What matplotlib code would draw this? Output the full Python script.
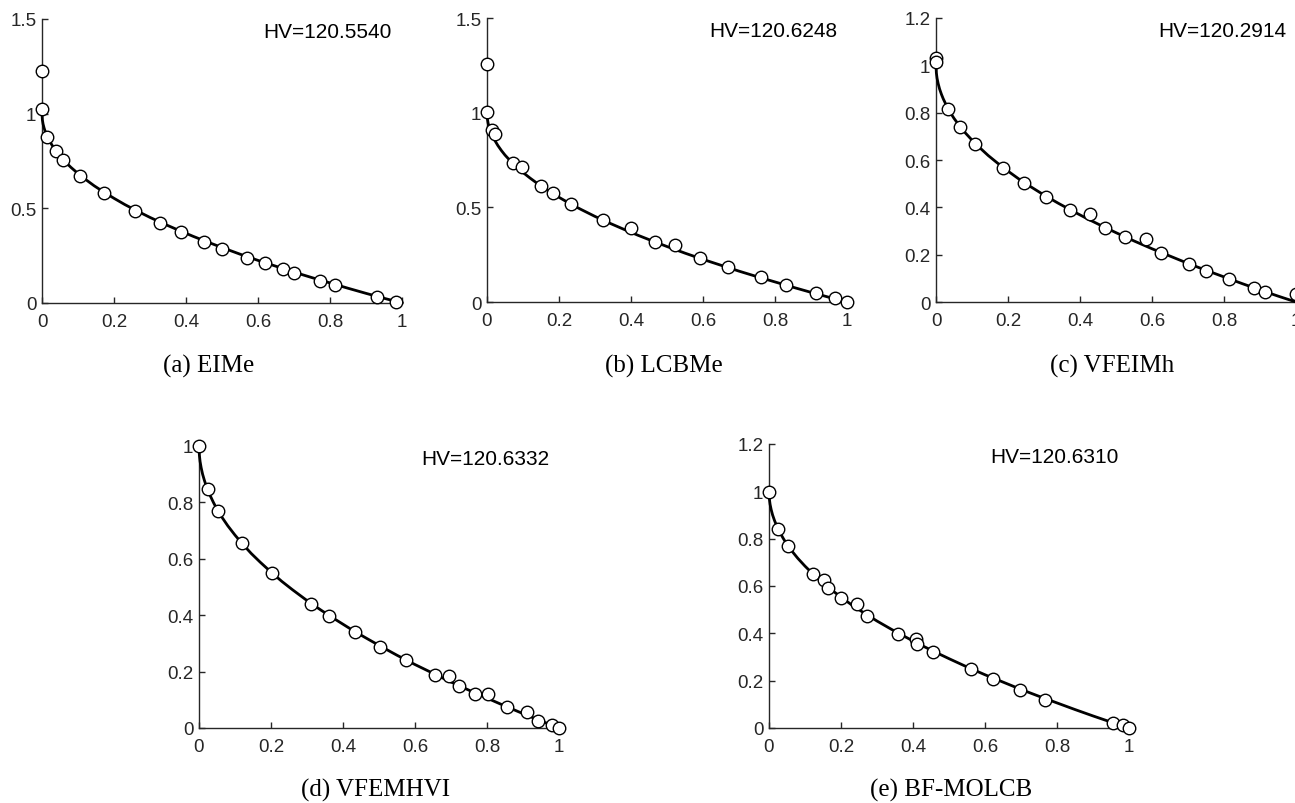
import matplotlib
matplotlib.use("Agg")
import matplotlib.pyplot as plt
from matplotlib.ticker import FuncFormatter, MultipleLocator

# ---------------- data ----------------
# reference Pareto front
pf_f1 = [0, 0.001, 0.003, 0.006, 0.01, 0.015, 0.02, 0.03, 0.04, 0.05, 0.065, 0.08,
         0.1, 0.12, 0.145, 0.17, 0.2, 0.23, 0.26, 0.3, 0.34, 0.38, 0.42, 0.46, 0.5,
         0.55, 0.6, 0.65, 0.7, 0.75, 0.8, 0.85, 0.9, 0.95, 1.0]
pf_f2 = [1.0, 0.968, 0.945, 0.923, 0.9, 0.878, 0.859, 0.827, 0.8, 0.776, 0.745, 0.717,
         0.684, 0.654, 0.619, 0.588, 0.553, 0.520, 0.490, 0.452, 0.417, 0.384, 0.352,
         0.322, 0.293, 0.258, 0.225, 0.194, 0.163, 0.134, 0.106, 0.078, 0.051, 0.025, 0.0]

captions = ["(a) EIMe", "(b) LCBMe", "(c) VFEIMh", "(d) VFEMHVI", "(e) BF-MOLCB"]
hv_values = ["120.5540", "120.6248", "120.2914", "120.6332", "120.6310"]

eime_f1 = [0, 0, 0.014, 0.038, 0.057, 0.106, 0.171, 0.259, 0.327, 0.385, 0.451, 0.501,
           0.569, 0.619, 0.669, 0.699, 0.772, 0.815, 0.931, 0.983]
eime_f2 = [1.227, 1.025, 0.879, 0.803, 0.754, 0.669, 0.581, 0.486, 0.423, 0.375, 0.324,
           0.287, 0.239, 0.210, 0.178, 0.158, 0.118, 0.093, 0.033, 0.004]

lcbme_f1 = [0, 0, 0.013, 0.023, 0.073, 0.097, 0.151, 0.182, 0.234, 0.321, 0.400, 0.466,
            0.523, 0.591, 0.669, 0.761, 0.831, 0.914, 0.967, 1.0]
lcbme_f2 = [1.256, 1.006, 0.909, 0.888, 0.732, 0.712, 0.612, 0.575, 0.517, 0.433, 0.390,
            0.318, 0.301, 0.234, 0.186, 0.130, 0.091, 0.047, 0.021, 0.0]

vfeimh_f1 = [0, 0, 0.033, 0.066, 0.108, 0.187, 0.244, 0.306, 0.372, 0.429, 0.469, 0.524,
             0.584, 0.624, 0.703, 0.750, 0.815, 0.882, 0.915, 1.0]
vfeimh_f2 = [1.031, 1.014, 0.816, 0.741, 0.669, 0.566, 0.503, 0.445, 0.388, 0.373, 0.313,
             0.275, 0.268, 0.209, 0.160, 0.131, 0.096, 0.061, 0.042, 0.032]

vfemhvi_f1 = [0, 0.025, 0.053, 0.119, 0.203, 0.311, 0.362, 0.432, 0.503, 0.575, 0.656,
              0.694, 0.721, 0.768, 0.802, 0.855, 0.911, 0.941, 0.980, 0.999]
vfemhvi_f2 = [1.0, 0.846, 0.770, 0.657, 0.550, 0.440, 0.396, 0.342, 0.288, 0.240, 0.188,
              0.186, 0.149, 0.122, 0.122, 0.076, 0.058, 0.026, 0.011, 0.0]

bfmolcb_f1 = [0, 0.025, 0.053, 0.121, 0.154, 0.165, 0.201, 0.244, 0.272, 0.359, 0.407,
              0.410, 0.456, 0.562, 0.621, 0.697, 0.768, 0.956, 0.983, 1.0]
bfmolcb_f2 = [0.997, 0.840, 0.767, 0.649, 0.625, 0.591, 0.549, 0.525, 0.475, 0.398, 0.374,
              0.355, 0.323, 0.248, 0.209, 0.162, 0.120, 0.021, 0.014, 0.0]

series_f1 = [eime_f1, lcbme_f1, vfeimh_f1, vfemhvi_f1, bfmolcb_f1]
series_f2 = [eime_f2, lcbme_f2, vfeimh_f2, vfemhvi_f2, bfmolcb_f2]

y_max = [1.5, 1.5, 1.2, 1.0, 1.2]
y_step = [0.5, 0.5, 0.2, 0.2, 0.2]

# ---------------- layout (pixels) ----------------
W, H = 1295, 804
# left, right, top, bottom in pixels
boxes = [(42, 402, 20, 304), (487, 847, 19, 303), (936, 1296, 19, 303),
         (199, 559, 447, 729), (769, 1129, 445, 729)]
cap_pos = [(209, 373), (664, 373), (1112, 373), (376, 797), (951, 797)]

fig = plt.figure(figsize=(W / 100, H / 100), dpi=100)
fig.patch.set_facecolor("white")

axis_col = "#262626"
fmt = FuncFormatter(lambda v, p: "%g" % round(v, 4))

for i in range(5):
    l, r, t, b = boxes[i]
    ax = fig.add_axes([l / W, (H - b) / H, (r - l) / W, (b - t) / H])
    ax.plot(pf_f1, pf_f2, color="black", lw=2.0, zorder=3, clip_on=False)
    ax.plot(series_f1[i], series_f2[i], linestyle="none", marker="o", ms=9,
            mfc="white", mec="black", mew=1.0, zorder=4, clip_on=False)
    ax.set_xlim(0, 1)
    ax.set_ylim(0, y_max[i])
    ax.xaxis.set_major_locator(MultipleLocator(0.2))
    ax.yaxis.set_major_locator(MultipleLocator(y_step[i]))
    ax.xaxis.set_major_formatter(fmt)
    ax.yaxis.set_major_formatter(fmt)
    for s in ["top", "right"]:
        ax.spines[s].set_visible(False)
    for s in ["left", "bottom"]:
        ax.spines[s].set_color(axis_col)
        ax.spines[s].set_linewidth(1.0)
    ax.tick_params(direction="in", length=4, width=1.0, color=axis_col,
                   labelcolor=axis_col, labelsize=13.5)
    ax.tick_params(axis="x", pad=7)
    ax.tick_params(axis="y", pad=4)
    for lab in ax.get_xticklabels() + ax.get_yticklabels():
        lab.set_fontfamily("Liberation Sans")
    ax.patch.set_alpha(0)
    ax.text(0.972, 0.935, "HV=" + hv_values[i], transform=ax.transAxes,
            ha="right", va="baseline", fontsize=15, family="Liberation Sans",
            color="black")
    cx, cy = cap_pos[i]
    fig.text(cx / W, (H - cy) / H, captions[i], ha="center", va="baseline",
             fontsize=18, family="Liberation Serif", color="black")

fig.savefig("out.png", dpi=100, facecolor="white")
